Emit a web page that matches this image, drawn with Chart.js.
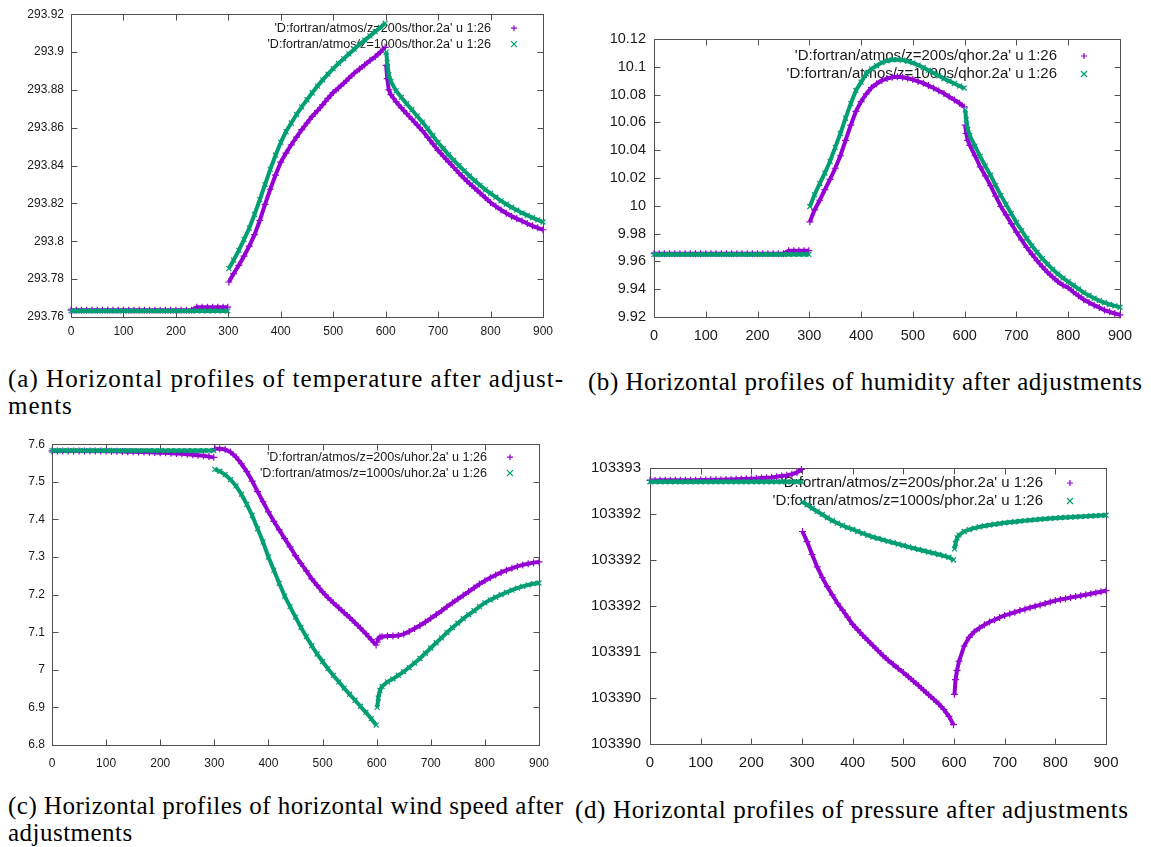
<!DOCTYPE html>
<html>
<head>
<meta charset="utf-8">
<script src="https://cdn.jsdelivr.net/npm/chart.js@4.4.1/dist/chart.umd.min.js"></script>
<style>
  body { margin: 0; background: #fff; width: 1151px; height: 847px; position: relative; overflow: hidden; }
  canvas { position: absolute; }
  .cap { position: absolute; font-family: "Liberation Serif", serif; font-size: 25px; line-height: 27px; color: #000; white-space: nowrap; }
</style>
</head>
<body>
<canvas id="gTemp" width="560" height="345" style="left:0px;top:0px"></canvas>
<canvas id="gHum" width="571" height="330" style="left:580px;top:20px"></canvas>
<canvas id="gWind" width="560" height="345" style="left:0px;top:430px"></canvas>
<canvas id="gPres" width="581" height="330" style="left:570px;top:450px"></canvas>

<div class="cap" data-w="555" style="left:8px;top:365px"><div>(a) Horizontal profiles of temperature after adjust-</div><div>ments</div></div>
<div class="cap" data-w="554" style="left:588px;top:368px"><div>(b) Horizontal profiles of humidity after adjustments</div></div>
<div class="cap" data-w="555" style="left:8px;top:792px"><div>(c) Horizontal profiles of horizontal wind speed after</div><div>adjustments</div></div>
<div class="cap" data-w="553" style="left:575px;top:796px"><div>(d) Horizontal profiles of pressure after adjustments</div></div>

<script>
// x positions (same grid for all four files)
const xPos = [0,10,20,30,40,50,60,70,80,90,100,110,120,130,140,150,160,170,180,190,200,210,220,230,240,250,260,270,280,290,299,
  301,310,320,330,340,350,360,370,380,390,400,410,420,430,440,450,460,470,480,490,500,510,520,530,540,550,560,570,580,590,599,
  601,603,606,610,620,630,640,650,660,670,680,690,700,710,720,730,740,750,760,770,780,790,800,810,820,830,840,850,860,870,880,890,900];

const xTickVals = [0,100,200,300,400,500,600,700,800,900];
const xTickLabels = ['0','100','200','300','400','500','600','700','800','900'];

// (a) temperature
const tempZ200 = [293.7636,293.7636,293.7636,293.7636,293.7636,293.7636,293.7636,293.7636,293.7636,293.7636,
  293.7636,293.7636,293.7636,293.7636,293.7636,293.7636,293.7636,293.7636,293.7636,293.7636,
  293.7636,293.7636,293.7636,293.7636,293.7652,293.7652,293.7652,293.7652,293.7652,293.7652,293.7652,
  293.7785,293.7829,293.7873,293.7922,293.7975,293.8035,293.811,293.8195,293.8275,293.835,293.8418,
  293.8466,293.851,293.855,293.859,293.8625,293.866,293.869,293.8722,293.8755,293.8786,
  293.881,293.8835,293.8862,293.8888,293.891,293.8932,293.8955,293.8975,293.9,293.9025,
  293.893,293.886,293.880,293.8775,293.8737,293.8705,293.8675,293.8645,293.8615,293.8585,293.855,293.8515,293.848,
  293.845,293.842,293.839,293.836,293.8332,293.8305,293.828,293.8255,293.823,293.8205,
  293.8185,293.8166,293.8148,293.8133,293.812,293.8107,293.8094,293.8082,293.8071,293.8061];
const tempZ1000 = [293.7632,293.7632,293.7632,293.7632,293.7632,293.7632,293.7632,293.7632,293.7632,293.7632,
  293.7632,293.7632,293.7632,293.7632,293.7632,293.7632,293.7632,293.7632,293.7632,293.7632,
  293.7632,293.7632,293.7632,293.7632,293.7632,293.7632,293.7632,293.7632,293.7632,293.7632,293.7632,
  293.7856,293.79,293.7952,293.801,293.807,293.8142,293.822,293.83,293.838,293.8455,293.8523,
  293.858,293.8625,293.867,293.871,293.8748,293.8785,293.882,293.8853,293.8883,293.8912,
  293.894,293.8965,293.899,293.9015,293.904,293.9063,293.9085,293.9108,293.913,293.9152,
  293.900,293.8945,293.888,293.8845,293.8795,293.876,293.8727,293.8695,293.8662,293.863,293.8595,293.8558,293.8522,
  293.849,293.8458,293.8428,293.84,293.8372,293.8345,293.832,293.8296,293.8273,293.8253,
  293.8233,293.8214,293.8196,293.818,293.8165,293.815,293.8137,293.8125,293.8113,293.8102];
const tempTicks = [293.76,293.78,293.80,293.82,293.84,293.86,293.88,293.90,293.92];
const tempLabels = ['293.76','293.78','293.8','293.82','293.84','293.86','293.88','293.9','293.92'];

// (b) humidity
const humZ200 = [9.9655,9.9655,9.9655,9.9655,9.9655,9.9655,9.9655,9.9655,9.9655,9.9655,
  9.9655,9.9655,9.9655,9.9655,9.9655,9.9655,9.9655,9.9655,9.9655,9.9655,
  9.9655,9.9655,9.9655,9.9655,9.9655,9.9655,9.9677,9.9677,9.9677,9.9677,9.9677,
  9.9885,9.997,10.004,10.0116,10.019,10.027,10.036,10.047,10.058,10.068,10.075,
  10.0805,10.085,10.0878,10.0902,10.0915,10.0925,10.0928,10.0925,10.0918,10.0908,
  10.0895,10.0882,10.0865,10.0848,10.0828,10.0808,10.0785,10.0762,10.0738,10.0711,
  10.058,10.052,10.047,10.0435,10.036,10.028,10.0215,10.0145,10.007,9.9995,9.9935,9.9872,9.981,
  9.9755,9.97,9.9652,9.9605,9.9562,9.9522,9.9487,9.9455,9.9428,9.941,
  9.938,9.9352,9.9325,9.9305,9.9285,9.9268,9.925,9.9237,9.9225,9.9215];
const humZ1000 = [9.965,9.965,9.965,9.965,9.965,9.965,9.965,9.965,9.965,9.965,
  9.965,9.965,9.965,9.965,9.965,9.965,9.965,9.965,9.965,9.965,
  9.965,9.965,9.965,9.965,9.965,9.965,9.965,9.965,9.965,9.965,9.965,
  9.9995,10.008,10.016,10.0236,10.032,10.042,10.052,10.063,10.0735,10.083,10.089,
  10.095,10.0985,10.1008,10.103,10.1042,10.105,10.1052,10.1048,10.104,10.1028,
  10.1012,10.0995,10.0975,10.0955,10.0935,10.0915,10.0897,10.088,10.0862,10.0847,
  10.069,10.062,10.055,10.0505,10.043,10.0355,10.0285,10.022,10.0145,10.0075,10.001,9.9945,9.988,
  9.9822,9.9765,9.9712,9.9665,9.962,9.958,9.9543,9.951,9.948,9.9455,
  9.9428,9.9402,9.9375,9.9355,9.9335,9.9318,9.9303,9.929,9.928,9.927];
const humTicks = [9.92,9.94,9.96,9.98,10.00,10.02,10.04,10.06,10.08,10.10,10.12];
const humLabels = ['9.92','9.94','9.96','9.98','10','10.02','10.04','10.06','10.08','10.1','10.12'];

// (c) horizontal wind speed
const windZ200 = [7.582,7.582,7.582,7.582,7.582,7.582,7.582,7.582,7.582,7.582,
  7.582,7.5815,7.581,7.5805,7.58,7.5797,7.5794,7.579,7.5785,7.578,
  7.5775,7.577,7.5762,7.5755,7.5745,7.5735,7.572,7.5705,7.569,7.567,7.565,
  7.588,7.588,7.586,7.579,7.566,7.548,7.527,7.502,7.474,7.447,7.42,
  7.395,7.372,7.349,7.327,7.3035,7.283,7.263,7.242,7.2245,7.207,
  7.192,7.178,7.165,7.152,7.139,7.125,7.111,7.096,7.08,7.066,
  7.074,7.082,7.087,7.088,7.09,7.09,7.091,7.095,7.102,7.11,7.118,7.127,7.137,
  7.147,7.157,7.168,7.178,7.188,7.198,7.208,7.218,7.228,7.237,
  7.245,7.252,7.259,7.265,7.27,7.275,7.279,7.282,7.285,7.287];
const windZ1000 = [7.583,7.583,7.583,7.583,7.583,7.583,7.583,7.583,7.583,7.583,
  7.583,7.583,7.583,7.583,7.583,7.583,7.583,7.583,7.583,7.583,
  7.583,7.583,7.583,7.583,7.583,7.583,7.583,7.583,7.583,7.583,7.583,
  7.533,7.528,7.519,7.506,7.489,7.467,7.44,7.41,7.375,7.34,7.3,
  7.265,7.23,7.196,7.168,7.14,7.113,7.088,7.064,7.042,7.022,
  7.003,6.985,6.968,6.951,6.935,6.919,6.903,6.887,6.87,6.853,
  6.9,6.925,6.945,6.956,6.968,6.976,6.985,6.995,7.006,7.018,7.03,7.044,7.058,
  7.072,7.085,7.099,7.112,7.124,7.136,7.147,7.157,7.168,7.178,
  7.186,7.193,7.2,7.206,7.212,7.217,7.222,7.226,7.229,7.231];
const windTicks = [6.8,6.9,7.0,7.1,7.2,7.3,7.4,7.5,7.6];
const windLabels = ['6.8','6.9','7','7.1','7.2','7.3','7.4','7.5','7.6'];

// (d) pressure
const presZ200 = [103392.865,103392.865,103392.866,103392.866,103392.867,103392.867,103392.867,103392.868,103392.868,103392.868,
  103392.869,103392.87,103392.871,103392.872,103392.873,103392.874,103392.876,103392.878,103392.88,103392.882,
  103392.884,103392.887,103392.89,103392.893,103392.897,103392.905,103392.912,103392.92,103392.932,103392.952,103392.985,
  103392.31,103392.2,103392.06,103391.925,103391.81,103391.71,103391.62,103391.53,103391.455,103391.38,103391.3,
  103391.24,103391.18,103391.125,103391.07,103391.015,103390.96,103390.91,103390.865,103390.82,103390.777,
  103390.73,103390.683,103390.635,103390.585,103390.535,103390.485,103390.435,103390.375,103390.3,103390.21,
  103390.54,103390.7,103390.8,103390.9,103391.065,103391.16,103391.22,103391.26,103391.295,103391.326,103391.35,103391.375,103391.398,
  103391.415,103391.432,103391.45,103391.466,103391.482,103391.497,103391.512,103391.527,103391.543,103391.559,
  103391.57,103391.58,103391.592,103391.602,103391.612,103391.622,103391.633,103391.644,103391.655,103391.667];
const presZ1000 = [103392.85,103392.85,103392.85,103392.85,103392.85,103392.85,103392.85,103392.85,103392.85,103392.85,
  103392.85,103392.85,103392.85,103392.85,103392.85,103392.85,103392.85,103392.85,103392.85,103392.85,
  103392.85,103392.85,103392.85,103392.85,103392.85,103392.85,103392.85,103392.85,103392.85,103392.85,103392.85,
  103392.63,103392.6,103392.563,103392.528,103392.495,103392.46,103392.428,103392.4,103392.375,103392.352,103392.332,
  103392.31,103392.288,103392.268,103392.25,103392.234,103392.218,103392.203,103392.188,103392.173,103392.158,
  103392.143,103392.128,103392.114,103392.1,103392.087,103392.074,103392.06,103392.045,103392.03,103392.0,
  103392.12,103392.18,103392.24,103392.27,103392.31,103392.33,103392.347,103392.36,103392.37,103392.38,103392.388,103392.396,103392.404,
  103392.41,103392.416,103392.422,103392.428,103392.433,103392.438,103392.443,103392.448,103392.452,103392.456,
  103392.46,103392.463,103392.466,103392.469,103392.472,103392.475,103392.478,103392.481,103392.484,103392.487];
const presTicks = [103390.0,103390.5,103391.0,103391.5,103392.0,103392.5,103393.0];
const presLabels = ['103390','103390','103391','103392','103392','103392','103393'];

const purple = '#9400d3';
const green = '#009e73';
const tickFont = '"Liberation Sans", Arial, sans-serif';

function drawMark(ctx, x, y, r, rot) {
  ctx.beginPath();
  if (rot) {
    ctx.moveTo(x - r, y - r); ctx.lineTo(x + r, y + r);
    ctx.moveTo(x - r, y + r); ctx.lineTo(x + r, y - r);
  } else {
    ctx.moveTo(x - r, y); ctx.lineTo(x + r, y);
    ctx.moveTo(x, y - r); ctx.lineTo(x, y + r);
  }
  ctx.stroke();
}

// points with a break at the jumps (x = 300 and x = 600)
function series(ys) {
  const pts = [];
  xPos.forEach((x, i) => {
    if (x === 301 || x === 601) pts.push({ x: x - 1, y: null });
    pts.push({ x: x, y: ys[i] });
  });
  return pts;
}

function panel(id, c) {
  // gnuplot style box with inward ticks, plus key drawn under the points
  const frame = {
    id: 'frame',
    beforeDatasetsDraw(chart) {
      const ctx = chart.ctx;
      const a = chart.chartArea;
      const xs = chart.scales.x, ys = chart.scales.y;
      const L = Math.round(a.left) + 0.5, R = Math.round(a.right) + 0.5;
      const T = Math.round(a.top) + 0.5, B = Math.round(a.bottom) + 0.5;
      ctx.save();
      ctx.strokeStyle = '#505050';
      ctx.lineWidth = 1;
      ctx.strokeRect(L, T, R - L, B - T);
      ctx.beginPath();
      xTickVals.forEach(v => {
        const px = Math.round(xs.getPixelForValue(v)) + 0.5;
        ctx.moveTo(px, B); ctx.lineTo(px, B - 6);
        ctx.moveTo(px, T); ctx.lineTo(px, T + 6);
      });
      c.ticks.forEach(v => {
        const py = Math.round(ys.getPixelForValue(v)) + 0.5;
        ctx.moveTo(L, py); ctx.lineTo(L + 6, py);
        ctx.moveTo(R, py); ctx.lineTo(R - 6, py);
      });
      ctx.stroke();

      ctx.font = c.keyFs + 'px ' + tickFont;
      ctx.textAlign = 'right';
      ctx.textBaseline = 'middle';
      chart.data.datasets.forEach((ds, i) => {
        const y = a.top + c.keyY[i];
        ctx.fillStyle = '#1a1a1a';
        ctx.fillText(ds.label, a.right - c.keyText, y);
        ctx.strokeStyle = ds.pointBorderColor;
        ctx.lineWidth = 1.2;
        drawMark(ctx, a.right - c.keyMark, y, 3, i === 1);
      });
      ctx.restore();
    }
  };

  return new Chart(document.getElementById(id), {
    type: 'scatter',
    data: {
      datasets: [
        { label: c.names[0], data: series(c.z200), showLine: true, spanGaps: false,
          borderColor: purple, borderWidth: 4,
          pointStyle: 'cross', pointRadius: 3.5, pointBorderWidth: 1.2,
          pointBorderColor: purple, pointBackgroundColor: purple, order: 1, clip: false },
        { label: c.names[1], data: series(c.z1000), showLine: true, spanGaps: false,
          borderColor: green, borderWidth: 4,
          pointStyle: 'crossRot', pointRadius: 3.5, pointBorderWidth: 1.2,
          pointBorderColor: green, pointBackgroundColor: green, order: 0, clip: false }
      ]
    },
    options: {
      responsive: false,
      animation: false,
      devicePixelRatio: 1,
      layout: { padding: { top: c.padTop, right: c.padRight, left: 0, bottom: 0 } },
      plugins: { legend: { display: false }, tooltip: { enabled: false } },
      scales: {
        x: {
          type: 'linear', min: 0, max: 900,
          grid: { display: false, drawTicks: false },
          border: { display: false },
          ticks: { color: '#1a1a1a', font: { family: tickFont, size: c.fs }, padding: c.xPad,
                   autoSkip: false, maxRotation: 0,
                   callback: (v, i) => xTickLabels[i] },
          afterBuildTicks: s => { s.ticks = xTickVals.map(v => ({ value: v })); },
          afterFit: s => { s.height = c.xH; }
        },
        y: {
          type: 'linear', min: c.ticks[0], max: c.ticks[c.ticks.length - 1],
          grid: { display: false, drawTicks: false },
          border: { display: false },
          ticks: { color: '#1a1a1a', font: { family: tickFont, size: c.fs }, padding: c.yPad,
                   autoSkip: false,
                   callback: (v, i) => c.labels[i] },
          afterBuildTicks: s => { s.ticks = c.ticks.map(v => ({ value: v })); },
          afterFit: s => { s.width = c.yW; }
        }
      }
    },
    plugins: [frame]
  });
}

panel('gTemp', {
  z200: tempZ200, z1000: tempZ1000, ticks: tempTicks, labels: tempLabels,
  names: ["'D:fortran/atmos/z=200s/thor.2a' u 1:26", "'D:fortran/atmos/z=1000s/thor.2a' u 1:26"],
  fs: 12, keyFs: 12.6, yW: 71, padTop: 13, padRight: 16, xH: 28, xPad: 7, yPad: 7,
  keyText: 52, keyMark: 29, keyY: [14, 30]
});
panel('gHum', {
  z200: humZ200, z1000: humZ1000, ticks: humTicks, labels: humLabels,
  names: ["'D:fortran/atmos/z=200s/qhor.2a' u 1:26", "'D:fortran/atmos/z=1000s/qhor.2a' u 1:26"],
  fs: 14.5, keyFs: 15, yW: 74, padTop: 19, padRight: 31, xH: 33, xPad: 10, yPad: 8,
  keyText: 63, keyMark: 36, keyY: [17, 35]
});
panel('gWind', {
  z200: windZ200, z1000: windZ1000, ticks: windTicks, labels: windLabels,
  names: ["'D:fortran/atmos/z=200s/uhor.2a' u 1:26", "'D:fortran/atmos/z=1000s/uhor.2a' u 1:26"],
  fs: 12, keyFs: 12.6, yW: 52, padTop: 11, padRight: 16, xH: 30, xPad: 11, yPad: 7,
  keyText: 52, keyMark: 29, keyY: [13, 29]
});
panel('gPres', {
  z200: presZ200, z1000: presZ1000, ticks: presTicks, labels: presLabels,
  names: ["'D:fortran/atmos/z=200s/phor.2a' u 1:26", "'D:fortran/atmos/z=1000s/phor.2a' u 1:26"],
  fs: 15, keyFs: 15, yW: 80, padTop: 17, padRight: 45, xH: 36, xPad: 10, yPad: 9,
  keyText: 63, keyMark: 36, keyY: [15, 33]
});

// stretch caption lines to the width used in the original layout
document.querySelectorAll('.cap').forEach(el => {
  const first = el.firstElementChild;
  first.style.display = 'inline-block';
  const w = first.getBoundingClientRect().width;
  first.style.display = '';
  const n = first.textContent.length - 1;
  el.style.letterSpacing = ((+el.dataset.w - w) / n).toFixed(3) + 'px';
});
</script>
</body>
</html>
